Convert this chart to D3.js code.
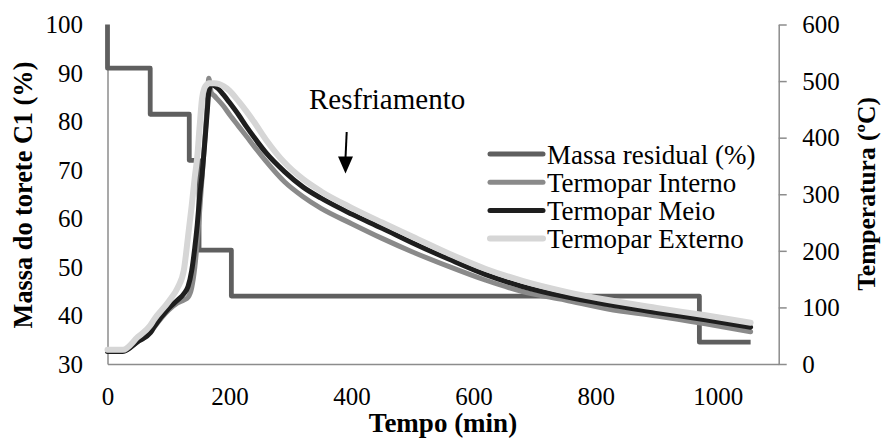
<!DOCTYPE html>
<html>
<head>
<meta charset="utf-8">
<script src="https://cdn.jsdelivr.net/npm/d3@7"></script>
<style>
  html, body { margin: 0; padding: 0; background: #fff; }
  svg { display: block; font-family: "Liberation Serif", "Times New Roman", serif; }
</style>
</head>
<body>
<svg id="chart" width="881" height="439"></svg>
<script>
// Tempo (min) shared by the three thermocouple series
const tempo   = [0, 25, 50, 70, 76, 100, 115, 125, 132, 138, 143, 147, 151, 155, 159, 163, 166, 170, 175, 182, 190, 200, 215, 228, 240, 260, 290, 320, 350, 400, 450, 500, 560, 620, 680, 750, 820, 900, 980, 1054];
// Temperatures (ºC)
const interno = [23, 23, 40, 55, 64, 95, 108, 113, 118, 135, 170, 215, 270, 330, 390, 450, 505, 480, 474, 466, 456, 441, 420, 402, 385, 358, 322, 296, 275, 248, 222, 198, 172, 148, 128, 113, 97, 85, 71, 57];
const meio    = [22, 22, 40, 55, 65, 98, 113, 124, 137, 165, 205, 245, 295, 335, 385, 440, 480, 495, 492, 486, 476, 462, 440, 419, 401, 373, 340, 313, 293, 265, 240, 214, 185, 158, 137, 119, 105, 91, 78, 65];
const externo = [25, 25, 48, 68, 78, 110, 135, 165, 225, 280, 330, 365, 420, 470, 488, 494, 496, 496, 496, 495, 491, 483, 464, 446, 428, 396, 356, 327, 305, 276, 250, 225, 195, 168, 147, 128, 113, 99, 86, 73];

// Residual mass (%) as a step profile
const massaTempo = [0, 0, 70, 70, 134, 134, 150, 150, 203, 203, 970, 970, 1054];
const massa      = [100, 91, 91, 81.5, 81.5, 72, 72, 53.5, 53.5, 44, 44, 34.5, 34.5];

const xTicks      = [0, 200, 400, 600, 800, 1000];
const yLeftTicks  = [30, 40, 50, 60, 70, 80, 90, 100];
const yRightTicks = [0, 100, 200, 300, 400, 500, 600];

const seriesNames = ["Massa residual (%)", "Termopar Interno", "Termopar Meio", "Termopar Externo"];

const svg = d3.select("#chart");
const L = 107.5, R = 778.7, T = 24.5, B = 364;

const x  = d3.scaleLinear().domain([0, 1100]).range([L, R]);
const yL = d3.scaleLinear().domain([30, 100]).range([B, T]);
const yR = d3.scaleLinear().domain([0, 600]).range([B, T]);

const axisColor = "#8c8c8c";
const styles = [
  { color: "#5f5f5f", width: 4.8 },
  { color: "#8a8a8a", width: 5 },
  { color: "#1e1e1e", width: 5 },
  { color: "#d6d6d6", width: 6 }
];

// Axes
const gx = svg.append("g").attr("transform", `translate(0,${B})`)
  .call(d3.axisBottom(x).tickValues(xTicks).tickSize(0).tickSizeOuter(0).tickFormat(d3.format("d")));
gx.selectAll("text").attr("y", 41).attr("dy", 0);

const gl = svg.append("g").attr("transform", `translate(${L},0)`)
  .call(d3.axisLeft(yL).tickValues(yLeftTicks).tickSize(0).tickSizeOuter(0).tickFormat(d3.format("d")));
gl.selectAll("text").attr("x", -24.5).attr("dy", "0.33em");

const gr = svg.append("g").attr("transform", `translate(${R},0)`)
  .call(d3.axisRight(yR).tickValues(yRightTicks).tickSize(8).tickSizeOuter(0).tickFormat(d3.format("d")));
gr.selectAll("text").attr("x", 23.5).attr("dy", "0.33em");

svg.selectAll(".domain").attr("stroke", axisColor).attr("stroke-width", 1.5);
svg.selectAll(".tick line").attr("stroke", axisColor).attr("stroke-width", 1.5);
svg.selectAll(".tick text").attr("fill", "#000").attr("font-size", 25)
  .attr("font-family", "Liberation Serif, Times New Roman, serif");

// Axis titles
svg.append("text").attr("x", 443).attr("y", 432).attr("text-anchor", "middle")
  .attr("font-size", 27).attr("font-weight", "bold").text("Tempo (min)");
svg.append("text").attr("transform", "translate(23,195) rotate(-90)").attr("dy", "0.35em")
  .attr("text-anchor", "middle").attr("font-size", 26.3).attr("font-weight", "bold")
  .text("Massa do torete C1 (%)");
svg.append("text").attr("transform", "translate(866,194) rotate(-90)").attr("dy", "0.35em")
  .attr("text-anchor", "middle").attr("font-size", 25.5).attr("font-weight", "bold")
  .text("Temperatura (ºC)");

// Series
const plot = svg.append("g");
const massaLine = d3.line().x((d, i) => x(massaTempo[i])).y(d => yL(d));
plot.append("path").attr("d", massaLine(massa))
  .attr("fill", "none").attr("stroke", styles[0].color).attr("stroke-width", styles[0].width)
  .attr("stroke-linejoin", "round");

const tempLine = d3.line().x((d, i) => x(tempo[i])).y(d => yR(d)).curve(d3.curveMonotoneX);
[interno, meio, externo].forEach((s, k) => {
  plot.append("path").attr("d", tempLine(s))
    .attr("fill", "none").attr("stroke", styles[k + 1].color).attr("stroke-width", styles[k + 1].width)
    .attr("stroke-linejoin", "round").attr("stroke-linecap", "round");
});

// Annotation: cooling phase
svg.append("text").attr("x", 309).attr("y", 109).attr("font-size", 29).text("Resfriamento");
const ax = 345.5;
svg.append("line").attr("x1", ax + 1.2).attr("y1", 132).attr("x2", ax).attr("y2", 158)
  .attr("stroke", "#000").attr("stroke-width", 2);
svg.append("path").attr("d", `M${ax - 7.5},156.5 L${ax + 7.5},156.5 L${ax},173.5 Z`).attr("fill", "#000");

// Legend
const lg = svg.append("g");
seriesNames.forEach((name, i) => {
  const yy = 154 + i * 28.2;
  lg.append("line").attr("x1", 490).attr("x2", 543).attr("y1", yy).attr("y2", yy)
    .attr("stroke", styles[i].color).attr("stroke-width", i === 3 ? 6 : 5).attr("stroke-linecap", "round");
  lg.append("text").attr("x", 547).attr("y", yy + 9.5).attr("font-size", 27).attr("fill", "#000").text(name);
});
</script>
</body>
</html>
